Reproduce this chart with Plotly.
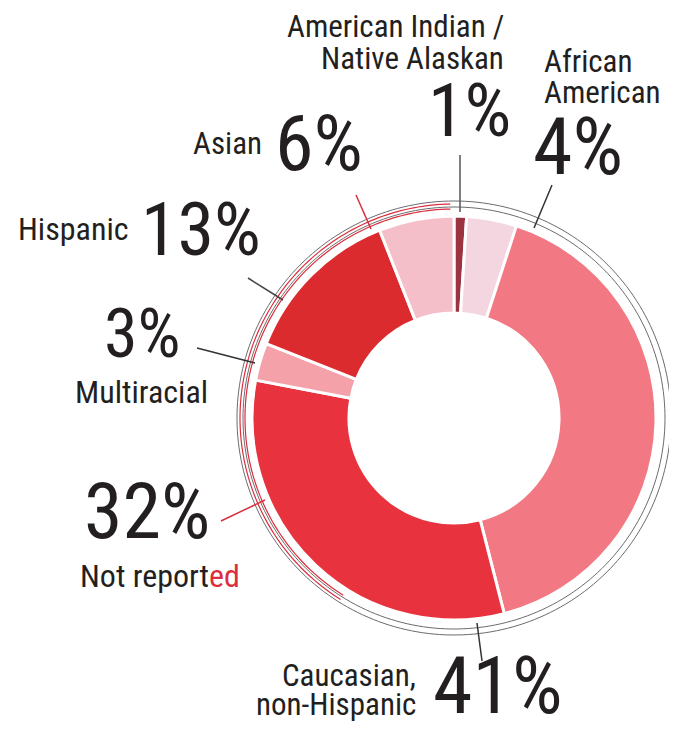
import numpy as np
import plotly.graph_objects as go

W, H = 677, 736

# ---- data ----
categories = ["American Indian / Native Alaskan", "African American",
              "Caucasian, non-Hispanic", "Not reported", "Multiracial",
              "Hispanic", "Asian"]
values = [1, 4, 41, 32, 3, 13, 6]
pct_labels = ["1%", "4%", "41%", "32%", "3%", "13%", "6%"]
colors = ["#9b3341", "#f3d6df", "#f27883", "#e8333f", "#f5a1aa", "#dc2b2f", "#f5bfc9"]

CX, CY, R = 446, 410, 202
FONT = "Roboto Condensed, Liberation Sans Narrow, sans-serif"
INK = "#231f20"
RED = "#dc2e3c"


def px(x):
    return x / W


def py(y):
    return 1 - y / H


fig = go.Figure(go.Pie(
    labels=categories, values=values, sort=False, direction="clockwise",
    rotation=0, hole=0.52, textinfo="none",
    marker=dict(colors=colors, line=dict(color="white", width=3)),
    domain=dict(x=[px(CX - R), px(CX + R)], y=[py(CY + R), py(CY - R)]),
    showlegend=False,
))

shapes = []


def arc_path(r, a0, a1, n=120):
    a = np.radians(np.linspace(a0, a1, n))
    xs = CX + r * np.sin(a)
    ys = CY - r * np.cos(a)
    pts = [f"{px(x):.5f},{py(y):.5f}" for x, y in zip(xs, ys)]
    return "M " + " L ".join(pts)


for r in (211, 217):
    shapes.append(dict(type="path", path=arc_path(r, 0, 360, 240), xref="paper", yref="paper",
                       line=dict(color="#6b6b70", width=1)))
for r in (209, 214):
    shapes.append(dict(type="path", path=arc_path(r, 212, 359), xref="paper", yref="paper",
                       line=dict(color=RED, width=1.2)))

leaders = [
    ((452, 147), (452, 204), "#555555"),
    ((544, 177), (526, 220), "#333333"),
    ((348, 187), (363, 221), RED),
    ((240, 270), (275, 292), "#444444"),
    ((189, 340), (247, 355), "#333333"),
    ((213, 513), (257, 492), RED),
    ((469, 615), (474, 653), "#333333"),
]
for (x0, y0), (x1, y1), c in leaders:
    shapes.append(dict(type="line", xref="paper", yref="paper",
                       x0=px(x0), y0=py(y0), x1=px(x1), y1=py(y1),
                       line=dict(color=c, width=1.5)))

fig.update_layout(shapes=shapes)

annotations = []


def txt(s, x, y, size, xanchor="center"):
    annotations.append(dict(text=s, x=px(x), y=py(y), xref="paper", yref="paper",
                            xanchor=xanchor, yanchor="middle", showarrow=False,
                            borderpad=0,
                            font=dict(family=FONT, size=size, color=INK)))


# category labels
LS = 31
txt("American Indian /", 497, 19, LS, "right")
txt("Native Alaskan", 497, 50, LS, "right")
txt("African", 535, 53, LS, "left")
txt("American", 535, 85, LS, "left")
txt("Asian", 255, 136, LS, "right")
txt("Hispanic", 122, 221, LS + 1, "right")
txt("Multiracial", 133, 384, LS + 1, "center")
txt("Not report<span style='color:%s'>ed</span>" % RED, 71, 568, LS + 1, "left")
txt("Caucasian,", 409, 667, LS, "right")
txt("non-Hispanic", 409, 696, LS, "right")

# percentages
txt(pct_labels[0], 461, 102, 74)
txt(pct_labels[1], 570, 139, 80)
txt(pct_labels[6], 311, 136, 78)
txt(pct_labels[5], 193, 221, 74)
txt(pct_labels[4], 134, 326, 68)
txt(pct_labels[3], 139, 503, 78)
txt(pct_labels[2], 490, 678, 80)

fig.update_layout(
    annotations=annotations,
    width=W, height=H,
    margin=dict(l=0, r=0, t=0, b=0),
    paper_bgcolor="white", plot_bgcolor="white",
)

fig.write_html("out.html")
